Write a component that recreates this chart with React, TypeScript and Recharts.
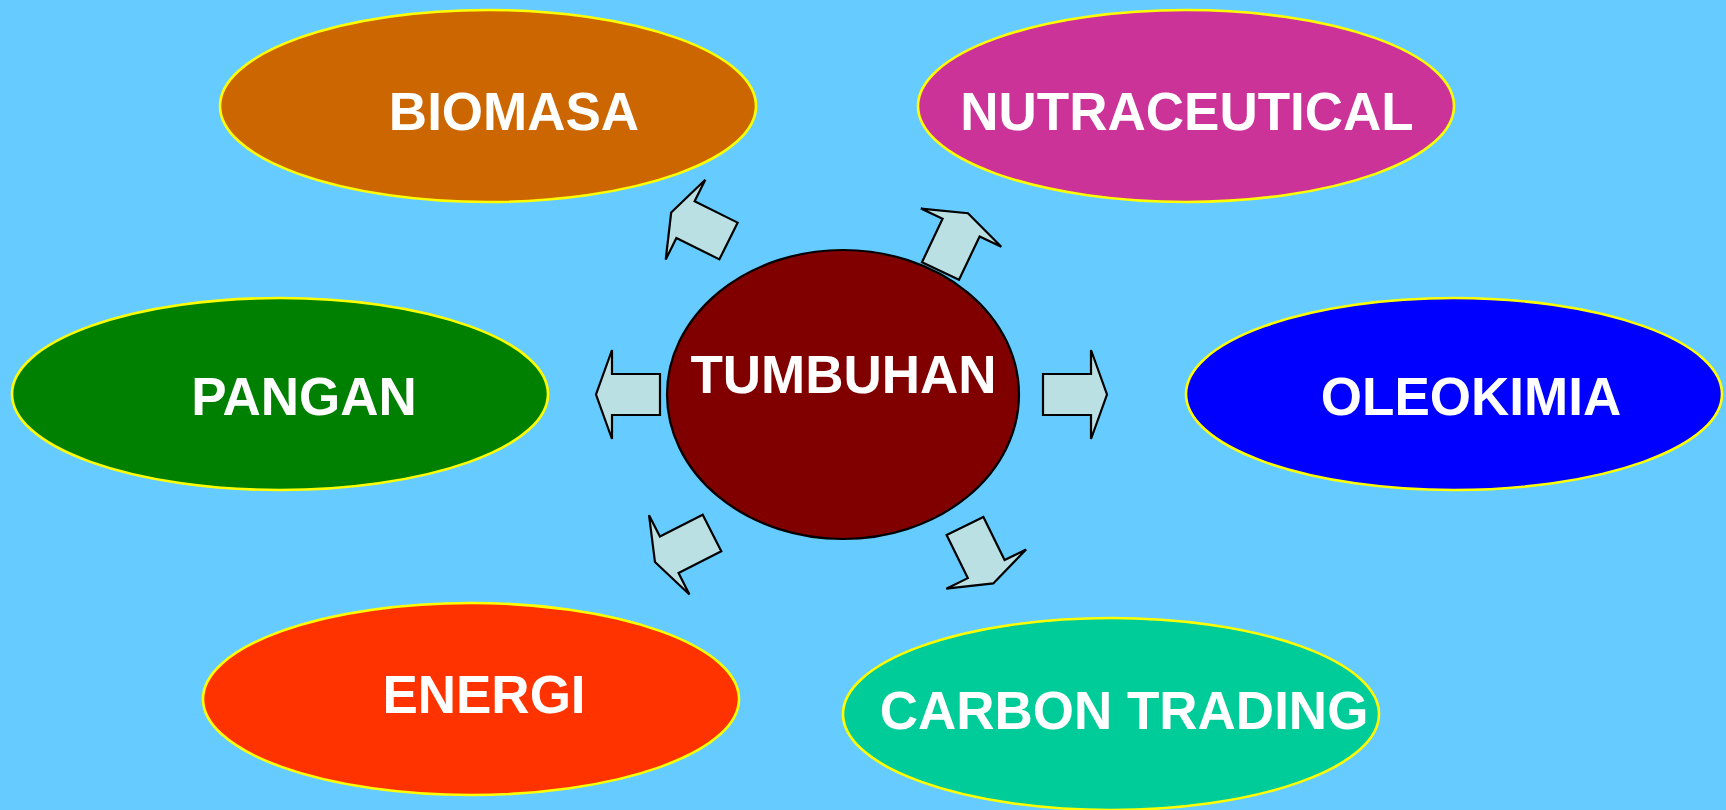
import React from 'react';
import { ScatterChart, Scatter, XAxis, YAxis } from 'recharts';

// node centres (in page units, 0..1726 x 0..810)
const nodeNames = ['BIOMASA', 'NUTRACEUTICAL', 'PANGAN', 'OLEOKIMIA', 'ENERGI', 'CARBON TRADING', 'TUMBUHAN'];
const nodeX = [488, 1186, 280, 1454, 471, 1111, 843];
const nodeY = [106, 106, 394, 394, 699, 714, 394.5];

// where each label's baseline sits
const labelX = [514, 1187, 304, 1471, 484, 1124, 843.5];
const labelY = [130, 130, 415, 415, 713, 729, 393];

// arrows: tail centre and direction in degrees
const arrowX = [660, 1043, 728.5, 940.5, 712, 965];
const arrowY = [394.5, 394.5, 241, 271, 533, 526];
const arrowAngle = [180, 0, -153.6, -64.6, 153, 63.8];

const nodeFills = ['#CC6600', '#CC3399', '#008000', '#0000FF', '#FF3300', '#00CC99', '#800000'];

const W = 1726;
const H = 810;

const nodes = nodeNames.map((name, i) => ({ x: nodeX[i], y: nodeY[i], name, idx: i }));
const labels = nodeNames.map((name, i) => ({ x: labelX[i], y: labelY[i], name }));
const arrows = arrowX.map((x, i) => ({ x, y: arrowY[i], angle: arrowAngle[i] }));

const NodeShape = (props: any) => {
  const { cx, cy, payload } = props;
  const center = payload.name === 'TUMBUHAN';
  return (
    <ellipse
      cx={cx}
      cy={cy}
      rx={center ? 176 : 268}
      ry={center ? 144.5 : 96}
      fill={nodeFills[payload.idx]}
      stroke={center ? '#000000' : '#FFFF00'}
      strokeWidth={center ? 2.2 : 2.6}
    />
  );
};

const LabelShape = (props: any) => {
  const { cx, cy, payload } = props;
  return (
    <text
      x={cx}
      y={cy}
      textAnchor="middle"
      fill="#FFFFFF"
      fontFamily="'Liberation Sans', Arial, sans-serif"
      fontWeight="bold"
      fontSize={53}
    >
      {payload.name}
    </text>
  );
};

const ArrowShape = (props: any) => {
  const { cx, cy, payload } = props;
  return (
    <polygon
      points="0,-20.5 48,-20.5 48,-44.5 64,0 48,44.5 48,20.5 0,20.5"
      transform={`translate(${cx},${cy}) rotate(${payload.angle})`}
      fill="#BBE0E3"
      stroke="#000000"
      strokeWidth={2.2}
      strokeLinejoin="miter"
    />
  );
};

export default function App() {
  return (
    <div style={{ width: W, height: H, background: '#66CCFF' }}>
      <style>{'body{margin:0}'}</style>
      <ScatterChart width={W} height={H} margin={{ top: 0, right: 0, bottom: 0, left: 0 }}>
        <XAxis type="number" dataKey="x" domain={[0, W]} hide allowDataOverflow />
        <YAxis type="number" dataKey="y" domain={[0, H]} reversed hide width={0} allowDataOverflow />
        <Scatter data={nodes} shape={NodeShape} isAnimationActive={false} legendType="none" />
        <Scatter data={arrows} shape={ArrowShape} isAnimationActive={false} legendType="none" />
        <Scatter data={labels} shape={LabelShape} isAnimationActive={false} legendType="none" />
      </ScatterChart>
    </div>
  );
}
